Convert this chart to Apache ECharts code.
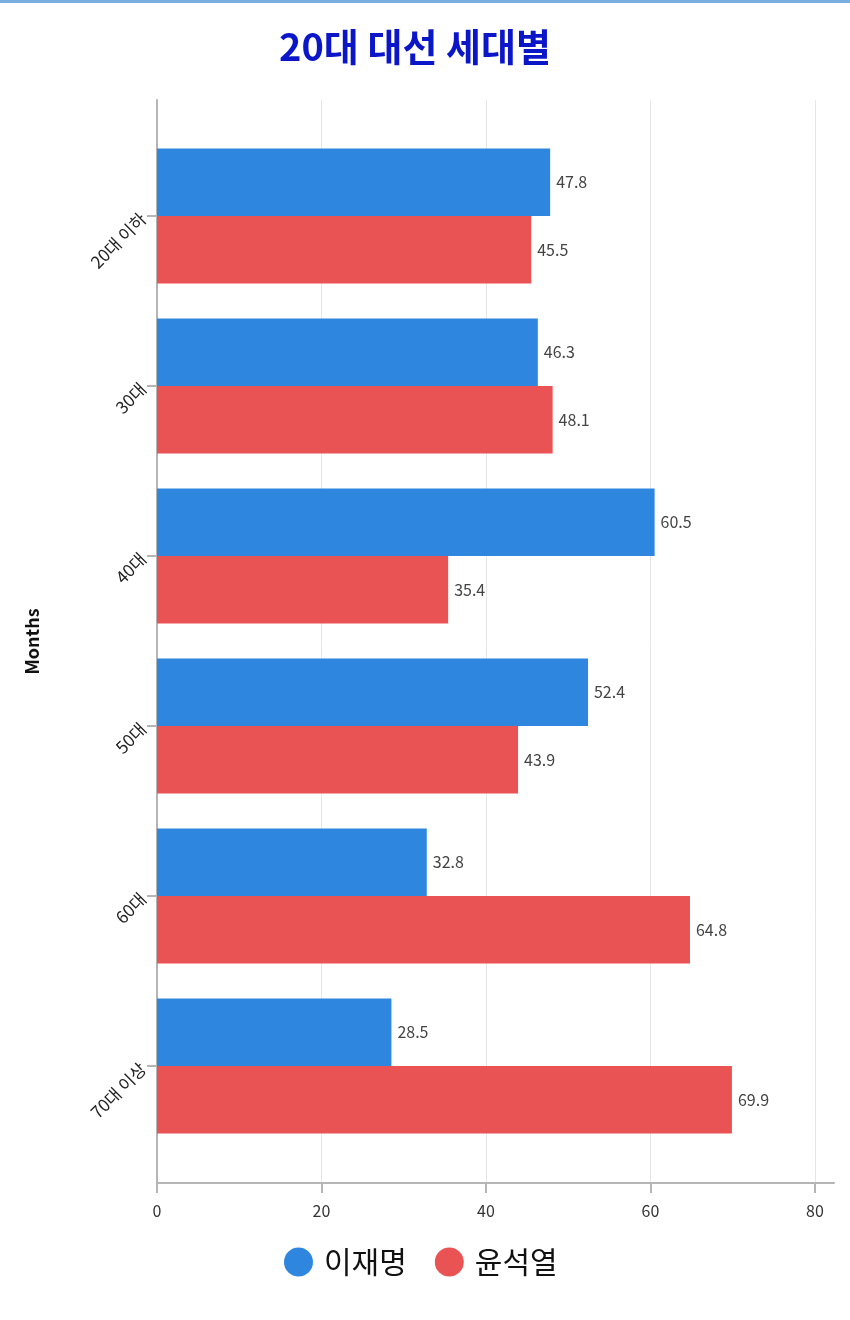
<!DOCTYPE html>
<html><head><meta charset="utf-8">
<script src="https://cdn.jsdelivr.net/npm/echarts@6/dist/echarts.min.js"></script>
<style>html,body{margin:0;padding:0;background:#fff}#c{width:850px;height:1320px}</style>
</head><body><div id="c"></div>
<script>
const categories = ['20대 이하', '30대', '40대', '50대', '60대', '70대 이상'];
const leeValues = [47.8, 46.3, 60.5, 52.4, 32.8, 28.5];
const yoonValues = [45.5, 48.1, 35.4, 43.9, 64.8, 69.9];
const seriesNames = ['이재명', '윤석열'];
const xTicks = [0, 20, 40, 60, 80];

const BLUE = '#2e86de', RED = '#ea5354';
const font = "'Noto Sans CJK KR', 'Noto Sans', sans-serif";
const chart = echarts.init(document.getElementById('c'));
chart.setOption({
  backgroundColor: '#fff',
  animation: false,
  title: { text: '20대 대선 세대별', left: 274, top: 23,
    textStyle: { color: '#0a16c8', fontSize: 38, fontWeight: 'bold', fontFamily: font } },
  graphic: [{ type: 'rect', left: 0, top: 0, shape: { width: 850, height: 3 }, style: { fill: '#7aaee0' } }],
  legend: { bottom: 38, left: 279, itemWidth: 29, itemHeight: 29, itemGap: 28, icon: 'circle',
    textStyle: { fontSize: 30, color: '#111', fontFamily: font, padding: [0, 0, 0, 6] }, data: seriesNames },
  grid: [
    { left: 157, width: 658, top: 131, height: 1020 },
    { left: 157, width: 658, top: 100, height: 1083 },
    { left: 157, right: 16, top: 100, height: 1083 }
  ],
  xAxis: [
    { gridIndex: 0, type: 'value', min: 0, max: 80, show: false },
    { gridIndex: 1, type: 'value', min: xTicks[0], max: xTicks[xTicks.length - 1], interval: 20,
      axisLine: { show: false },
      axisTick: { show: true, length: 10, lineStyle: { color: '#b5b5b5', width: 2 } },
      axisLabel: { margin: 20, fontSize: 16, color: '#333', fontFamily: font },
      splitLine: { show: true, lineStyle: { color: '#e6e6e6', width: 1 } } },
    { gridIndex: 2, type: 'value', min: 0, max: 1, axisLine: { show: true, lineStyle: { color: '#b5b5b5', width: 2 } },
      axisTick: { show: false }, axisLabel: { show: false }, splitLine: { show: false } }
  ],
  yAxis: [
    { gridIndex: 0, type: 'category', data: categories, inverse: true,
      axisLine: { show: false },
      axisTick: { show: true, alignWithLabel: true, length: 10, lineStyle: { color: '#b5b5b5', width: 2 } },
      axisLabel: { rotate: 45, margin: 14, fontSize: 17, color: '#222', fontFamily: font } },
    { gridIndex: 1, type: 'value', show: false },
    { gridIndex: 2, type: 'value', min: 0, max: 1, name: 'Months', nameLocation: 'middle', nameGap: 116,
      nameTextStyle: { fontSize: 18, color: '#111', fontWeight: 'bold', fontFamily: font },
      axisLine: { show: true, lineStyle: { color: '#b5b5b5', width: 2 } },
      axisTick: { show: false }, axisLabel: { show: false }, splitLine: { show: false } }
  ],
  series: [
    { name: seriesNames[0], type: 'bar', xAxisIndex: 0, yAxisIndex: 0, data: leeValues,
      barWidth: 67.5, barGap: '0%', itemStyle: { color: BLUE },
      label: { show: true, position: 'right', distance: 6, fontSize: 16, color: '#444', fontFamily: font } },
    { name: seriesNames[1], type: 'bar', xAxisIndex: 0, yAxisIndex: 0, data: yoonValues,
      barWidth: 67.5, barGap: '0%', itemStyle: { color: RED },
      label: { show: true, position: 'right', distance: 6, fontSize: 16, color: '#444', fontFamily: font } }
  ]
});
</script></body></html>
